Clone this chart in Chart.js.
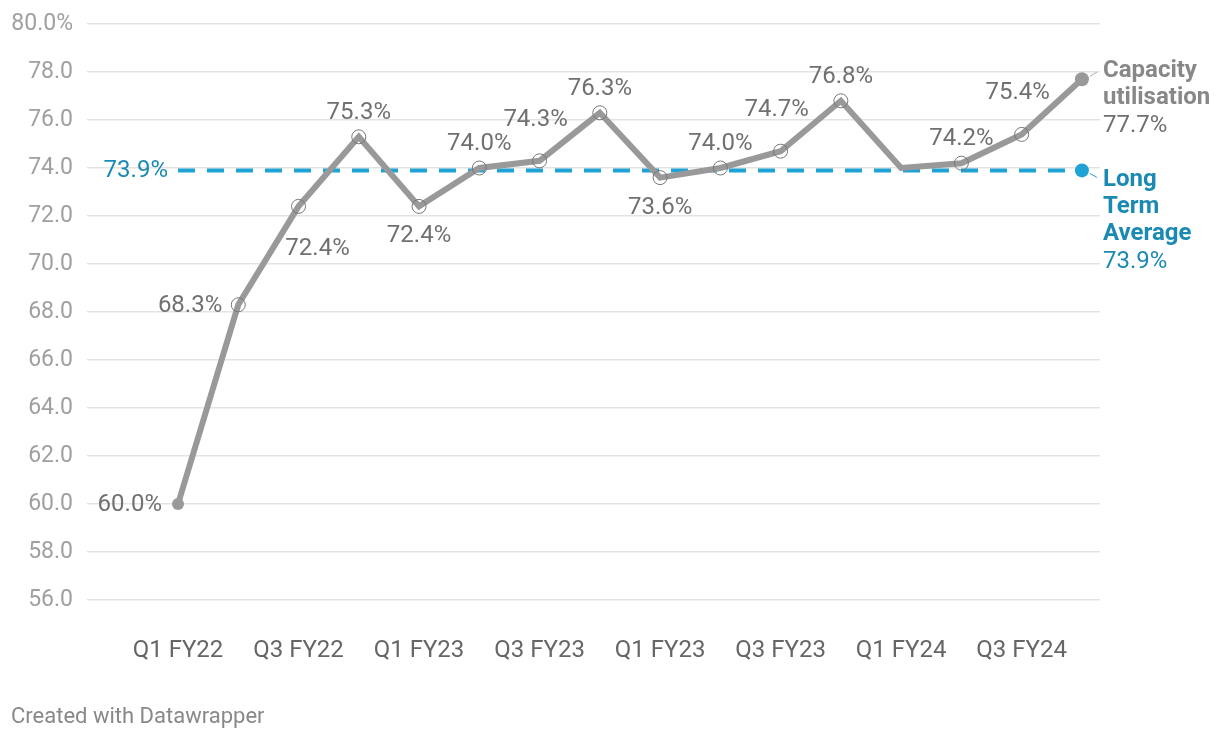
<!DOCTYPE html>
<html>
<head>
<meta charset="utf-8">
<script src="https://cdn.jsdelivr.net/npm/chart.js@4.4.1/dist/chart.umd.min.js"></script>
<style>
  html, body { margin: 0; padding: 0; background: #fff; }
  #wrap { width: 1220px; height: 740px; position: relative; }
</style>
</head>
<body>
<div id="wrap"><canvas id="c" width="1220" height="740"></canvas></div>
<script>
// ---- data ----
const categories = ["Q1 FY22","Q2 FY22","Q3 FY22","Q4 FY22","Q1 FY23","Q2 FY23","Q3 FY23","Q4 FY23",
                    "Q1 FY23","Q2 FY23","Q3 FY23","Q4 FY23","Q1 FY24","Q2 FY24","Q3 FY24","Q4 FY24"];
const utilisation = [60.0, 68.3, 72.4, 75.3, 72.4, 74.0, 74.3, 76.3, 73.6, 74.0, 74.7, 76.8, 74.0, 74.2, 75.4, 77.7];
const longTermAverage = 73.9;
const yTicks = [56, 58, 60, 62, 64, 66, 68, 70, 72, 74, 76, 78, 80];
const xTickIdx = [0, 2, 4, 6, 8, 10, 12, 14];

// label placement (style only)
const labelPlace = ["left","left","belowRight","above","below","above","aboveFar","above",
                    "below","above","aboveFar","above","none","above","aboveFar","end"];

const GRAY = "#999999";
const TEXT = "#707070";
const BLUE_LINE = "#1fa2d4";
const BLUE_TEXT = "#1a8ab3";
const FONT = "Roboto, 'Noto Sans', sans-serif";

const pts = utilisation.map((v, i) => ({ x: i, y: v }));
const avgPts = [{ x: 0, y: longTermAverage }, { x: utilisation.length - 1, y: longTermAverage }];

const radii = utilisation.map((v, i) => (i === 0 ? 6 : (i === utilisation.length - 1 ? 7 : (labelPlace[i] === "none" ? 0 : 7))));
const fills = utilisation.map((v, i) => (i === 0 || i === utilisation.length - 1) ? GRAY : "rgba(0,0,0,0)");
const borders = utilisation.map((v, i) => (i === 0 || i === utilisation.length - 1) ? GRAY : "#777777");
const bw = utilisation.map((v, i) => (i === 0 || i === utilisation.length - 1) ? 0 : 1);

const labelPlugin = {
  id: "labels",
  afterDatasetsDraw(chart) {
    const ctx = chart.ctx;
    const meta = chart.getDatasetMeta(0);
    const ametaEls = chart.getDatasetMeta(1).data;
    ctx.save();
    ctx.font = "24px " + FONT;
    ctx.fillStyle = TEXT;
    ctx.textBaseline = "middle";
    meta.data.forEach((el, i) => {
      const p = labelPlace[i];
      const t = utilisation[i].toFixed(1) + "%";
      let x = el.x, y = el.y;
      if (p === "none" || p === "end") return;
      if (p === "left") { ctx.textAlign = "right"; x -= 16; y += 1; }
      else if (p === "above") { ctx.textAlign = "center"; y -= 24; }
      else if (p === "aboveFar") { ctx.textAlign = "center"; x -= 4; y -= 41; }
      else if (p === "below") { ctx.textAlign = "center"; y += 30; }
      else if (p === "belowRight") { ctx.textAlign = "center"; x += 19; y += 43; }
      ctx.fillText(t, x, y);
    });
    // end labels
    const last = meta.data[meta.data.length - 1];
    const lx = chart.chartArea.right + 3;
    ctx.textAlign = "left";
    ctx.fillStyle = "#888888";
    ctx.font = "bold 24px " + FONT;
    ctx.fillText("Capacity", lx, last.y - 8);
    ctx.fillText("utilisation", lx, last.y + 19);
    ctx.font = "24px " + FONT;
    ctx.fillStyle = TEXT;
    ctx.fillText(utilisation[utilisation.length - 1].toFixed(1) + "%", lx, last.y + 47);

    const aEnd = ametaEls[1];
    const aStart = ametaEls[0];
    ctx.fillStyle = BLUE_TEXT;
    ctx.font = "bold 24px " + FONT;
    ctx.fillText("Long", lx, aEnd.y + 10);
    ctx.fillText("Term", lx, aEnd.y + 37);
    ctx.fillText("Average", lx, aEnd.y + 64);
    ctx.font = "24px " + FONT;
    ctx.fillText(longTermAverage.toFixed(1) + "%", lx, aEnd.y + 92);
    ctx.textAlign = "right";
    ctx.fillText(longTermAverage.toFixed(1) + "%", aStart.x - 10, aStart.y + 1);

    // small connectors
    ctx.lineWidth = 1;
    ctx.strokeStyle = "#aaaaaa";
    ctx.beginPath(); ctx.moveTo(last.x + 8, last.y - 3); ctx.lineTo(last.x + 15, last.y - 7); ctx.stroke();
    ctx.strokeStyle = BLUE_LINE;
    ctx.beginPath(); ctx.moveTo(aEnd.x + 8, aEnd.y + 3); ctx.lineTo(aEnd.x + 15, aEnd.y + 7); ctx.stroke();

    // footer
    ctx.textAlign = "left";
    ctx.fillStyle = "#888888";
    ctx.font = "22px " + FONT;
    ctx.fillText("Created with Datawrapper", 11, 717);
    ctx.restore();
  }
};

new Chart(document.getElementById("c"), {
  type: "line",
  data: {
    datasets: [
      {
        data: pts,
        borderColor: GRAY,
        borderWidth: 6,
        borderJoinStyle: "miter",
        pointRadius: radii,
        pointBackgroundColor: fills,
        pointBorderColor: borders,
        pointBorderWidth: bw,
        tension: 0,
        order: 1
      },
      {
        data: avgPts,
        borderColor: BLUE_LINE,
        borderWidth: 4,
        borderDash: [17, 12],
        pointRadius: [0, 7],
        pointBackgroundColor: BLUE_LINE,
        pointBorderWidth: 0,
        order: 2
      }
    ]
  },
  options: {
    responsive: false,
    animation: false,
    events: [],
    layout: { padding: { left: 0, right: 120, top: 24, bottom: 78 } },
    plugins: { legend: { display: false }, tooltip: { enabled: false } },
    scales: {
      x: {
        type: "linear",
        min: -1.51,
        max: 15.3,
        afterBuildTicks(s) { s.ticks = xTickIdx.map(v => ({ value: v })); },
        afterFit(s) { s.height = 62; s.paddingLeft = 0; s.paddingRight = 0; },
        grid: { display: false, drawTicks: false },
        border: { display: false },
        ticks: {
          autoSkip: false,
          maxRotation: 0,
          padding: 37,
          color: "#666666",
          font: { family: FONT, size: 24 },
          callback: (v) => categories[v]
        }
      },
      y: {
        min: 56,
        max: 80,
        afterBuildTicks(s) { s.ticks = yTicks.map(v => ({ value: v })); },
        afterFit(s) { s.width = 87; s.paddingTop = 0; s.paddingBottom = 0; },
        grid: { color: "#e3e3e3", lineWidth: 1.5, drawTicks: false },
        border: { display: false },
        ticks: {
          padding: 14,
          color: "#a0a0a0",
          font: { family: FONT, size: 23 },
          callback: (v) => v === 80 ? "80.0%" : v.toFixed(1)
        }
      }
    }
  },
  plugins: [labelPlugin]
});
</script>
</body>
</html>
